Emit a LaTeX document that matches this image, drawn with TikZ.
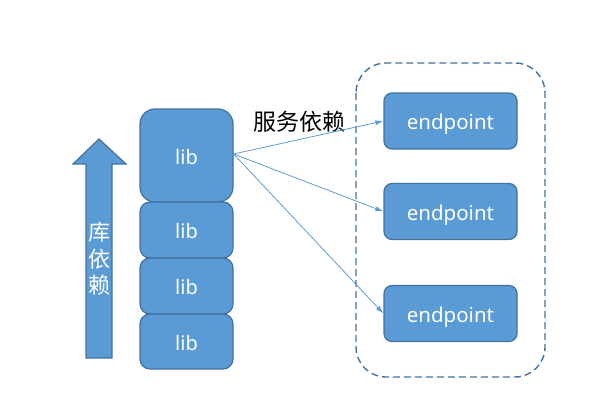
\documentclass[tikz,border=0pt]{standalone}
\usepackage{fontspec}
\setmainfont{Noto Sans}
\newfontfamily\cjk{Noto Sans CJK SC}
\usetikzlibrary{arrows.meta}
\definecolor{boxfill}{HTML}{5B9BD5}
\definecolor{boxline}{HTML}{41719C}
\tikzset{
  libbox/.style={draw=boxline, fill=boxfill, line width=1.2pt, text=white, minimum width=93pt, inner sep=0pt, text height=18pt, text depth=1pt, font=\fontsize{20}{24}\selectfont},
  epbox/.style={draw=boxline, fill=boxfill, line width=1.2pt, text=white, minimum width=133pt, minimum height=56pt, rounded corners=8pt, inner sep=0pt, text height=18pt, text depth=1pt, font=\fontsize{20.5}{24}\selectfont},
  conn/.style={draw=boxfill, line width=0.8pt, -{Latex[length=8pt,width=5pt]}}
}
\begin{document}
\begin{tikzpicture}[x=1pt,y=-1pt]
\useasboundingbox (0,0) rectangle (600,415);
% container
\draw[boxline, line width=1.4pt, dash pattern=on 7pt off 4pt, rounded corners=30pt] (356,63) rectangle (545,377);
% big arrow
\draw[boxline, fill=boxfill, line width=1.2pt, line join=miter] (86,358) -- (86,164) -- (73,164) -- (99,139) -- (126,164) -- (112,164) -- (112,358) -- cycle;
\node[text=white, align=center, font=\cjk\fontsize{22}{26.5}\selectfont] (libdep) at (99,259) {库\\依\\赖};
% lib stack
\node[libbox, minimum height=93pt, rounded corners=15pt] (lib1) at (186.5,155.5) {lib};
\node[libbox, minimum height=56pt, rounded corners=10pt] (lib2) at (186.5,230) {lib};
\node[libbox, minimum height=56pt, rounded corners=10pt] (lib3) at (186.5,286) {lib};
\node[libbox, minimum height=55pt, rounded corners=10pt] (lib4) at (186.5,341.5) {lib};
% endpoints
\node[epbox] (ep1) at (450.5,121) {endpoint};
\node[epbox] (ep2) at (450.5,211.5) {endpoint};
\node[epbox] (ep3) at (450.5,313.5) {endpoint};
% label
\node[font=\cjk\fontsize{23}{27}\selectfont, text=black] (svc) at (299,121.5) {服务依赖};
% connectors
\coordinate (src) at ([yshift=1.5pt]lib1.east);
\draw[conn] (src) -- (ep1.west);
\draw[conn] (src) -- (ep2.west);
\draw[conn] (src) -- (ep3.west);
\end{tikzpicture}
\end{document}
